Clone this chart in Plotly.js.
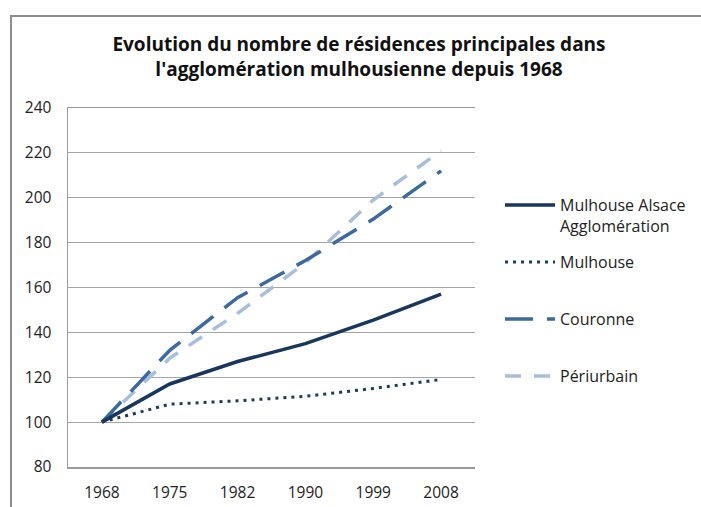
<!DOCTYPE html>
<html>
<head>
<meta charset="utf-8">
<script src="https://cdn.plot.ly/plotly-3.0.1.min.js"></script>
<style>
  html, body { margin: 0; padding: 0; background: #fff; }
  #wrap { position: relative; width: 701px; height: 507px; overflow: hidden; }
  #frame { position: absolute; left: 10px; top: 15px; width: 800px; height: 600px;
           border-left: 2px solid #8c8c8c; border-top: 2px solid #8c8c8c; box-sizing: border-box; pointer-events: none; }
  #chart { position: absolute; left: 0; top: 0; width: 701px; height: 507px; }
</style>
</head>
<body>
<div id="wrap">
  <div id="chart"></div>
  <div id="frame"></div>
</div>
<script>
const years = ['1968', '1975', '1982', '1990', '1999', '2008'];
const seriesNames = ['Mulhouse Alsace<br>Agglomération', 'Mulhouse', 'Couronne', 'Périurbain'];
const agglo = [100, 117, 127, 135, 145.5, 157];
const mulhouse = [100, 108, 109.5, 111.5, 115, 119];
const couronne = [100, 132, 155.5, 172, 190.5, 212];
const periurbain = [100, 128.5, 148.5, 171, 199, 221];
const yTicks = [80, 100, 120, 140, 160, 180, 200, 220, 240];

const font = 'Open Sans, Noto Sans, sans-serif';
const styles = [
  {color: '#17375E', width: 3.5, dash: 'solid'},
  {color: '#1F3A60', width: 3, dash: '3px,5px'},
  {color: '#3D6A9E', width: 3.5, dash: '28px,14px'},
  {color: '#A7BEDD', width: 3.5, dash: '16px,13px'}
];
const values = [agglo, mulhouse, couronne, periurbain];
const legendIds = ['legend', 'legend2', 'legend3', 'legend4'];

const traces = values.map((v, i) => ({
  type: 'scatter', mode: 'lines', x: years, y: v, name: seriesNames[i],
  line: styles[i], legend: legendIds[i], hoverinfo: 'skip'
}));
const order = [3, 2, 1, 0];
const data = order.map(i => traces[i]);

const legendRowsY = [204, 261, 318, 375];
function legendCfg(py) {
  return {
    xref: 'container', yref: 'container', x: 500 / 701, xanchor: 'left',
    y: 1 - (py - 16) / 507, yanchor: 'top', valign: 'top', itemwidth: 50,
    bgcolor: 'rgba(0,0,0,0)', borderwidth: 0,
    font: {family: font, size: 16, color: '#222'}
  };
}

const layout = {
  width: 701, height: 507,
  margin: {l: 68, r: 226, t: 108, b: 40},
  paper_bgcolor: '#fff', plot_bgcolor: '#fff',
  showlegend: true,
  title: {
    text: 'Evolution du nombre de résidences principales dans<br>l\'agglomération mulhousienne depuis 1968',
    font: {family: font, size: 19, color: '#111', weight: 'bold'},
    x: 359 / 701, xanchor: 'center', xref: 'container',
    y: 1 - 51 / 507, yanchor: 'top', yref: 'container'
  },
  xaxis: {
    type: 'category', range: [-0.5, 5.5], showgrid: false, zeroline: false,
    showline: true, linecolor: '#9a9a9a', linewidth: 1.5, mirror: true,
    ticks: '', ticklabelstandoff: 11,
    tickfont: {family: font, size: 15.5, color: '#222'}
  },
  yaxis: {
    range: [80, 240], tickvals: yTicks, showgrid: true, gridcolor: '#a6a6a6', gridwidth: 1.2,
    zeroline: false, showline: true, linecolor: '#9a9a9a', linewidth: 1.5,
    ticks: '', ticklabelstandoff: 12,
    tickfont: {family: font, size: 15.5, color: '#222'}
  }
};
legendIds.forEach((id, i) => { layout[id] = legendCfg(legendRowsY[i]); });

Plotly.newPlot('chart', data, layout, {staticPlot: true, displayModeBar: false});
</script>
</body>
</html>
